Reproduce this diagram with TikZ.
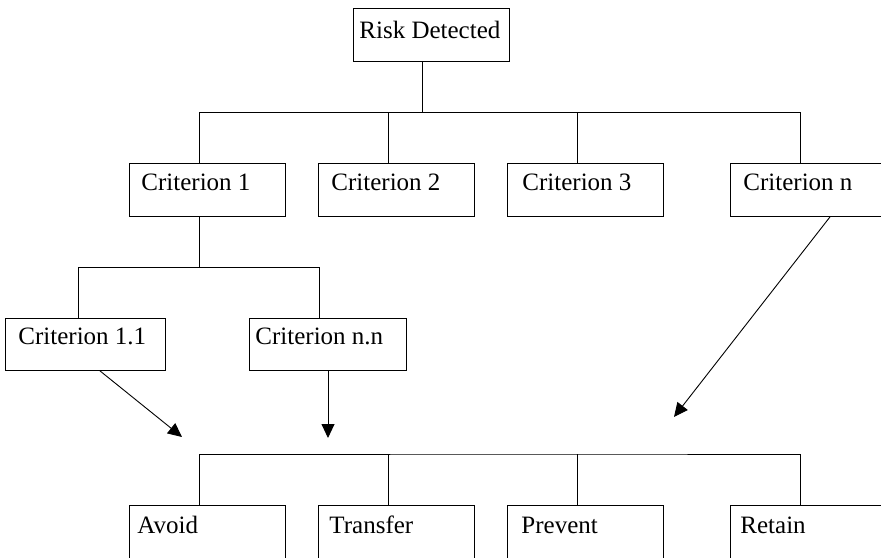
\documentclass[tikz,border=0pt]{standalone}
\usepackage{fontspec}
\setmainfont{Liberation Serif}
\usetikzlibrary{arrows.meta}
\newcommand\boxlbl[3]{\makebox[#1][l]{\hspace{#2}#3}}
\tikzset{
  box/.style={draw=black, line width=0.9pt, rectangle, anchor=north west, inner sep=0pt,
    font=\fontsize{25pt}{30pt}\selectfont},
  rowtop/.style={box, text height=27pt, text depth=26pt},
  rowmid/.style={box, text height=26pt, text depth=26pt},
  rowlow/.style={box, text height=28pt, text depth=42pt},
  link/.style={draw=black, line width=0.9pt},
  arr/.style={link, -{Triangle[length=14pt,width=13pt]}}
}
\begin{document}
\begin{tikzpicture}[x=1pt,y=-1pt]
\useasboundingbox (0,0) rectangle (881,557);
\fill[white] (0,0) rectangle (881,557);
\clip (0,0) rectangle (881,557);

% nodes
\node[box, text height=30pt, text depth=23pt] (risk) at (353,8) {\boxlbl{156pt}{6pt}{Risk Detected}};

\node[rowtop] (c1) at (129,163) {\boxlbl{156pt}{12pt}{Criterion 1}};
\node[rowtop] (c2) at (318,163) {\boxlbl{156pt}{13pt}{Criterion 2}};
\node[rowtop] (c3) at (507,163) {\boxlbl{156pt}{15pt}{Criterion 3}};
\node[rowtop] (cn) at (730,163) {\boxlbl{156pt}{13pt}{Criterion n}};

\node[rowmid] (c11) at (5,318) {\boxlbl{160pt}{13pt}{Criterion 1.1}};
\node[rowmid] (cnn) at (249,318) {\boxlbl{157pt}{6pt}{Criterion n.n}};

\node[rowlow] (avoid) at (129,505) {\boxlbl{156pt}{8pt}{Avoid}};
\node[rowlow] (transfer) at (318,505) {\boxlbl{156pt}{11pt}{Transfer}};
\node[rowlow] (prevent) at (507,505) {\boxlbl{156pt}{14pt}{Prevent}};
\node[rowlow] (retain) at (730,505) {\boxlbl{156pt}{10pt}{Retain}};

% junctions and free arrow ends
\coordinate (j1) at (422,112);
\coordinate (j2) at (199,267);
\coordinate (j3) at (577,454);
\coordinate (t1) at (182,437);
\coordinate (t2) at (328,438);
\coordinate (t3) at (674,417);

% first level tree
\draw[link] ([xshift=69pt]risk.south west) -- (j1);
\draw[link] ([xshift=70pt]c1.north west) |- (j1);
\draw[link] ([xshift=70pt]cn.north west) |- (j1);
\draw[link] ([xshift=70pt]c2.north west) -- ([xshift=70pt]c2.north west |- j1);
\draw[link] ([xshift=70pt]c3.north west) -- ([xshift=70pt]c3.north west |- j1);

% second level tree
\draw[link] ([xshift=70pt]c1.south west) -- (j2);
\draw[link] ([xshift=73pt]c11.north west) |- (j2);
\draw[link] ([xshift=70pt]cnn.north west) |- (j2);

% bottom tree
\draw[link] ([xshift=70pt]avoid.north west) |- (j3) -| ([xshift=70pt]retain.north west);
\draw[link] ([xshift=70pt]transfer.north west) -- ([xshift=70pt]transfer.north west |- j3);
\draw[link] ([xshift=70pt]prevent.north west) -- (j3);

% arrows
\draw[arr] ([xshift=95pt]c11.south west) -- (t1);
\draw[arr] ([xshift=79pt]cnn.south west) -- (t2);
\draw[arr] ([xshift=100pt]cn.south west) -- (t3);
\end{tikzpicture}
\end{document}
